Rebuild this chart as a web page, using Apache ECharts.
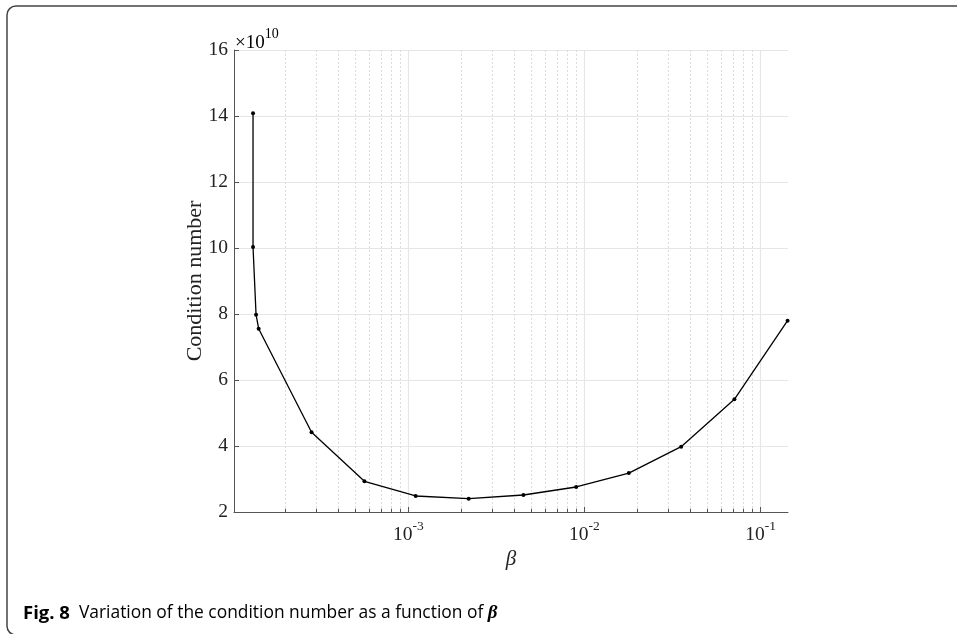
<!DOCTYPE html>
<html>
<head>
<meta charset="utf-8">
<script src="https://cdn.jsdelivr.net/npm/echarts@6/dist/echarts.min.js"></script>
<style>
html,body{margin:0;padding:0;background:#fff;}
#chart{width:957px;height:634px;}
</style>
</head>
<body>
<div id="chart"></div>
<script>
// beta values (x, log scale)
const betaValues = [1.312e-4, 1.312e-4, 1.365e-4, 1.412e-4, 2.82e-4, 5.63e-4, 1.10e-3, 2.20e-3, 4.50e-3, 8.97e-3, 1.786e-2, 3.54e-2, 7.10e-2, 0.1423];
// condition number, in units of 1e10
const condValues = [14.08, 10.03, 7.98, 7.555, 4.415, 2.93, 2.485, 2.403, 2.515, 2.758, 3.18, 3.98, 5.415, 7.797];
// y ticks
const yTicks = [2, 4, 6, 8, 10, 12, 14, 16];
// x axis range
const xRange = [1.023e-4, 0.1431];
// minor grid positions (2..9 x 10^k)
const minorX = [];
for (let k = -4; k <= -1; k++) {
  for (let m = 2; m <= 9; m++) {
    const v = m * Math.pow(10, k);
    if (v > xRange[0] && v < xRange[1]) minorX.push(v);
  }
}

const chart = echarts.init(document.getElementById('chart'));
const serif = 'Liberation Serif';
const yMin = yTicks[0], yMax = yTicks[yTicks.length - 1];
const option = {
  animation: false,
  backgroundColor: '#fff',
  grid: {left: 234, right: 169, top: 50, bottom: 122, containLabel: false},
  xAxis: {
    type: 'log',
    logBase: 10,
    min: xRange[0],
    max: xRange[1],
    name: 'β',
    nameLocation: 'middle',
    nameGap: 37,
    nameMoveOverlap: false,
    nameTextStyle: {fontFamily: serif, fontStyle: 'italic', fontSize: 21, color: '#222'},
    axisLine: {show: true, lineStyle: {color: '#555', width: 1}},
    axisTick: {show: true, inside: true, length: 5, lineStyle: {color: '#555'}},
    minorTick: {show: false},
    axisLabel: {
      showMinLabel: false, showMaxLabel: false,
      margin: 7,
      formatter: function (v) {
        const e = Math.round(Math.log10(v));
        return '{b|10}{s|' + e + '}';
      },
      rich: {
        b: {fontFamily: serif, fontSize: 19.5, color: '#222', lineHeight: 26, verticalAlign: 'bottom'},
        s: {fontFamily: serif, fontSize: 13.5, color: '#222', lineHeight: 26, verticalAlign: 'top', padding: [0, 0, 6, 0]}
      }
    },
    splitLine: {show: true, showMinLine: false, showMaxLine: false, lineStyle: {color: '#e6e6e6', width: 1.2}}
  },
  yAxis: {
    type: 'value',
    min: yMin,
    max: yMax,
    interval: 2,
    name: 'Condition number',
    nameLocation: 'middle',
    nameGap: 28,
    nameMoveOverlap: false,
    nameRotate: 90,
    nameTextStyle: {fontFamily: serif, fontSize: 22, color: '#222'},
    axisLine: {show: true, lineStyle: {color: '#555', width: 1}},
    axisTick: {show: true, inside: true, length: 5, lineStyle: {color: '#555'}},
    axisLabel: {fontFamily: serif, fontSize: 19.5, color: '#222', margin: 6},
    splitLine: {show: true, lineStyle: {color: '#e6e6e6', width: 1.2}}
  },
  series: [
    {
      type: 'line',
      data: [],
      z: 1,
      silent: true,
      markLine: {
        silent: true,
        symbol: 'none',
        precision: 12,
        animation: false,
        label: {show: false},
        lineStyle: {color: '#dcdcdc', type: [2, 2], width: 1},
        data: minorX.map(v => [{coord: [v, yMin]}, {coord: [v, yMax]}])
      }
    },
    {
      type: 'line',
      data: [],
      z: 2,
      silent: true,
      markLine: {
        silent: true,
        symbol: 'none',
        precision: 12,
        animation: false,
        label: {show: false},
        lineStyle: {color: '#555', type: 'solid', width: 1},
        data: minorX.map(v => [{coord: [v, yMin]}, {coord: [v, yMin + 0.1]}])
      }
    },
    {
      type: 'line',
      z: 5,
      data: betaValues.map((b, i) => [b, condValues[i]]),
      lineStyle: {color: '#000', width: 1.3},
      itemStyle: {color: '#000'},
      symbol: 'circle',
      symbolSize: 4,
      showSymbol: true
    }
  ],
  graphic: [
    {
      type: 'rect',
      shape: {x: 7, y: 6, width: 1000, height: 629, r: 9},
      style: {fill: 'none', stroke: '#444', lineWidth: 1.5},
      silent: true
    },
    {
      type: 'text',
      left: 235,
      top: 27,
      style: {
        rich: {
          a: {fontFamily: serif, fontSize: 19, color: '#222', lineHeight: 26, verticalAlign: 'bottom'},
          s: {fontFamily: serif, fontSize: 14, color: '#222', lineHeight: 26, verticalAlign: 'top', padding: [0, 0, 6, 0]}
        },
        text: '{a|×10}{s|10}'
      }
    },
    {
      type: 'text',
      left: 23,
      top: 604,
      style: {
        rich: {
          f: {fontFamily: 'Open Sans', fontWeight: 'bold', fontSize: 18.5, color: '#222'},
          t: {fontFamily: 'Open Sans', fontSize: 17.4, color: '#222'},
          g: {fontFamily: serif, fontStyle: 'italic', fontWeight: 'bold', fontSize: 19, color: '#222'}
        },
        text: '{f|Fig. 8}{t|  Variation of the condition number as a function of }{g|β}'
      }
    }
  ]
};
chart.setOption(option);
</script>
</body>
</html>
